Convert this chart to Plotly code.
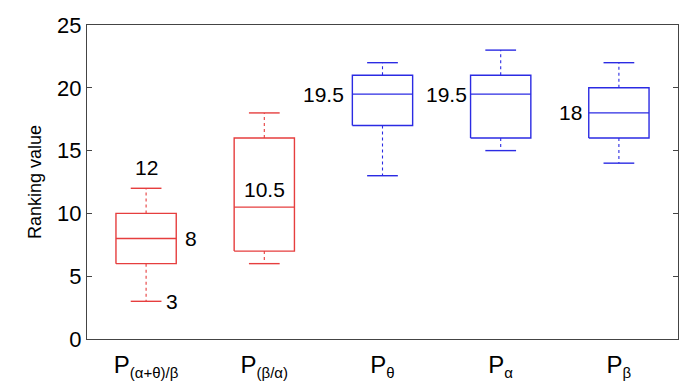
import plotly.graph_objects as go

categories = ["P<sub><span style='font-size:15px'>(α+θ)/β</span></sub>",
              "P<sub><span style='font-size:15px'>(β/α)</span></sub>",
              "P<sub><span style='font-size:15px'>θ</span></sub>",
              "P<sub><span style='font-size:15px'>α</span></sub>",
              "P<sub><span style='font-size:15px'>β</span></sub>"]
lower_whisker = [3, 6, 13, 15, 14]
q1 = [6, 7, 17, 16, 16]
median = [8, 10.5, 19.5, 19.5, 18]
q3 = [10, 16, 21, 21, 20]
upper_whisker = [12, 18, 22, 23, 22]
colors = ["#E63E3E", "#E63E3E", "#2B2BE3", "#2B2BE3", "#2B2BE3"]
y_ticks = [0, 5, 10, 15, 20, 25]

BOX_HALF = 0.255
CAP_HALF = 0.13

fig = go.Figure()
for i in range(len(categories)):
    x = i + 1
    c = colors[i]
    fig.add_trace(go.Scatter(
        x=[x - BOX_HALF, x + BOX_HALF, x + BOX_HALF, x - BOX_HALF, x - BOX_HALF],
        y=[q1[i], q1[i], q3[i], q3[i], q1[i]],
        mode="lines", line=dict(color=c, width=1.4), hoverinfo="skip", showlegend=False))
    fig.add_trace(go.Scatter(
        x=[x - BOX_HALF, x + BOX_HALF], y=[median[i], median[i]],
        mode="lines", line=dict(color=c, width=1.4), hoverinfo="skip", showlegend=False))
    fig.add_trace(go.Scatter(
        x=[x, x, None, x, x], y=[q3[i], upper_whisker[i], None, q1[i], lower_whisker[i]],
        mode="lines", line=dict(color=c, width=1.1, dash="dot"), hoverinfo="skip", showlegend=False))
    fig.add_trace(go.Scatter(
        x=[x - CAP_HALF, x + CAP_HALF, None, x - CAP_HALF, x + CAP_HALF],
        y=[upper_whisker[i], upper_whisker[i], None, lower_whisker[i], lower_whisker[i]],
        mode="lines", line=dict(color=c, width=1.4), hoverinfo="skip", showlegend=False))

font_lbl = dict(family="Liberation Sans, Arial, sans-serif", size=21, color="black")
ann = [
    dict(x=1, y=upper_whisker[0], text=str(upper_whisker[0]), xanchor="center", yanchor="bottom", yshift=7),
    dict(x=1 + BOX_HALF, y=median[0], text=str(median[0]), xanchor="left", yanchor="middle", xshift=7),
    dict(x=1 + CAP_HALF, y=lower_whisker[0], text=str(lower_whisker[0]), xanchor="left", yanchor="middle", xshift=3),
    dict(x=2, y=median[1], text=str(median[1]), xanchor="center", yanchor="bottom", yshift=4),
    dict(x=3 - BOX_HALF, y=median[2], text=str(median[2]), xanchor="right", yanchor="middle", xshift=-6),
    dict(x=4 - BOX_HALF, y=median[3], text=str(median[3]), xanchor="right", yanchor="middle", xshift=-2),
    dict(x=5 - BOX_HALF, y=median[4], text=str(median[4]), xanchor="right", yanchor="middle", xshift=-5),
]
for a in ann:
    a.update(showarrow=False, font=font_lbl, xref="x", yref="y")
fig.update_layout(annotations=ann)

fig.update_layout(
    width=687, height=381,
    margin=dict(l=87, r=9, t=25, b=42, autoexpand=False),
    paper_bgcolor="white", plot_bgcolor="white",
    font=dict(family="Liberation Sans, Arial, sans-serif", color="black"),
    xaxis=dict(
        range=[0.5, 5.5], tickmode="array", tickvals=[1, 2, 3, 4, 5], ticktext=categories,
        showgrid=False, zeroline=False, showline=True, mirror=True, linecolor="#444444",
        linewidth=1.2, ticks="", tickfont=dict(size=24), ticklabelstandoff=4, automargin=False),
    yaxis=dict(
        range=[0, 25], tickmode="array", tickvals=y_ticks,
        showgrid=False, zeroline=False, showline=True, mirror="ticks", linecolor="#444444",
        linewidth=1.2, ticks="inside", ticklen=5, tickcolor="#444444", tickfont=dict(size=22),
        automargin=False,
        title=dict(text="Ranking value", font=dict(size=18), standoff=10)),
)

fig.write_html("out.html", config={"displayModeBar": False},
               post_script="document.body.style.margin='0';")
